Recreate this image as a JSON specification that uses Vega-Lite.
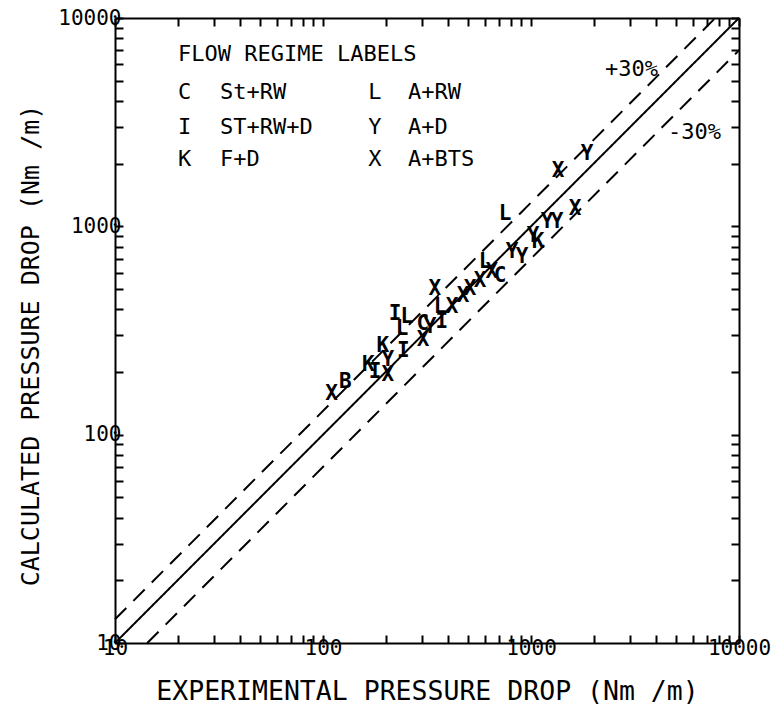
{
  "$schema": "https://vega.github.io/schema/vega-lite/v6.json",
  "width": 624,
  "height": 625,
  "autosize": {"type": "none"},
  "padding": {"left": 115, "top": 18, "right": 36, "bottom": 75},
  "background": "white",
  "config": {
    "view": {"stroke": null},
    "axis": {
      "domainColor": "black", "domainWidth": 2, "tickColor": "black", "tickWidth": 2,
      "grid": false, "labelFont": "DejaVu Sans Mono", "labelFontSize": 21, "labelColor": "black",
      "titleFont": "DejaVu Sans Mono", "titleFontSize": 24, "titleFontWeight": "normal", "titleColor": "black"
    }
  },
  "datasets": {
    "lines": [
      {"series": "eq", "style": "solid", "exp": 10, "calc": 10},
      {"series": "eq", "style": "solid", "exp": 10000, "calc": 10000},
      {"series": "p30", "style": "dashed", "exp": 10, "calc": 13},
      {"series": "p30", "style": "dashed", "exp": 7692, "calc": 10000},
      {"series": "m30", "style": "dashed", "exp": 14.29, "calc": 10},
      {"series": "m30", "style": "dashed", "exp": 10000, "calc": 7000}
    ],
    "points": [
      {"label": "X", "exp": 110, "calc": 156},
      {"label": "B", "exp": 128, "calc": 178},
      {"label": "K", "exp": 165, "calc": 217},
      {"label": "I", "exp": 178, "calc": 199},
      {"label": "K", "exp": 194, "calc": 265},
      {"label": "Y", "exp": 205, "calc": 229},
      {"label": "X", "exp": 205, "calc": 194},
      {"label": "I", "exp": 243, "calc": 251},
      {"label": "L", "exp": 240, "calc": 320},
      {"label": "I", "exp": 222, "calc": 378},
      {"label": "L", "exp": 253, "calc": 369},
      {"label": "X", "exp": 303, "calc": 286},
      {"label": "C", "exp": 302, "calc": 338},
      {"label": "Y", "exp": 327, "calc": 330},
      {"label": "X", "exp": 345, "calc": 498},
      {"label": "L", "exp": 365, "calc": 412},
      {"label": "I", "exp": 373, "calc": 349},
      {"label": "X", "exp": 417, "calc": 412},
      {"label": "X", "exp": 471, "calc": 461},
      {"label": "X", "exp": 509, "calc": 498},
      {"label": "X", "exp": 569, "calc": 544},
      {"label": "X", "exp": 649, "calc": 601},
      {"label": "C", "exp": 710, "calc": 575},
      {"label": "L", "exp": 601, "calc": 671},
      {"label": "Y", "exp": 811, "calc": 750},
      {"label": "Y", "exp": 905, "calc": 710},
      {"label": "Y", "exp": 1023, "calc": 895},
      {"label": "K", "exp": 1081, "calc": 838},
      {"label": "Y", "exp": 1194, "calc": 1045},
      {"label": "Y", "exp": 1334, "calc": 1045},
      {"label": "X", "exp": 1628, "calc": 1207},
      {"label": "L", "exp": 750, "calc": 1142},
      {"label": "X", "exp": 1349, "calc": 1838},
      {"label": "Y", "exp": 1858, "calc": 2219}
    ],
    "annot": [
      {"text": "FLOW REGIME LABELS", "exp": 20.1, "calc": 6714},
      {"text": "C", "exp": 20.1, "calc": 4406},
      {"text": "St+RW", "exp": 32, "calc": 4406},
      {"text": "L", "exp": 165, "calc": 4406},
      {"text": "A+RW", "exp": 256, "calc": 4406},
      {"text": "I", "exp": 20.1, "calc": 2992},
      {"text": "ST+RW+D", "exp": 32, "calc": 2992},
      {"text": "Y", "exp": 165, "calc": 2992},
      {"text": "A+D", "exp": 256, "calc": 2992},
      {"text": "K", "exp": 20.1, "calc": 2099},
      {"text": "F+D", "exp": 32, "calc": 2099},
      {"text": "X", "exp": 165, "calc": 2099},
      {"text": "A+BTS", "exp": 256, "calc": 2099},
      {"text": "+30%", "exp": 2270, "calc": 5690},
      {"text": "-30%", "exp": 4560, "calc": 2830}
    ]
  },
  "resolve": {"axis": {"x": "independent", "y": "independent"}},
  "layer": [
    {
      "data": {"name": "lines"},
      "mark": {"type": "line", "color": "black", "strokeWidth": 2},
      "encoding": {
        "x": {"field": "exp", "type": "quantitative",
          "scale": {"type": "log", "domain": [10, 10000], "nice": false},
          "axis": {"orient": "bottom", "title": "EXPERIMENTAL PRESSURE DROP  (Nm /m)",
            "values": [10,20,30,40,50,60,70,80,90,100,200,300,400,500,600,700,800,900,1000,2000,3000,4000,5000,6000,7000,8000,9000,10000],
            "format": "d", "tickSize": -8, "labelPadding": 2, "labelFlush": false, "labelOverlap": false,
            "labelExpr": "(datum.value == 10 || datum.value == 100 || datum.value == 1000 || datum.value == 10000) ? datum.label : ''",
            "titleFontSize": 26.5, "titlePadding": 20}},
        "y": {"field": "calc", "type": "quantitative",
          "scale": {"type": "log", "domain": [10, 10000], "nice": false},
          "axis": {"orient": "left", "title": "CALCULATED PRESSURE DROP  (Nm /m)",
            "values": [10,20,30,40,50,60,70,80,90,100,200,300,400,500,600,700,800,900,1000,2000,3000,4000,5000,6000,7000,8000,9000,10000],
            "format": "d", "tickSize": -8, "labelPadding": 2, "labelFlush": false, "labelOverlap": false,
            "labelExpr": "(datum.value == 10 || datum.value == 100 || datum.value == 1000 || datum.value == 10000) ? datum.label : ''",
            "titleFontSize": 25, "titleY": 327, "titlePadding": 14}},
        "detail": {"field": "series"},
        "strokeDash": {"field": "style", "type": "nominal",
          "scale": {"domain": ["solid", "dashed"], "range": [[1, 0], [16, 10]]}, "legend": null}
      }
    },
    {
      "data": {"name": "points"},
      "mark": {"type": "text", "font": "DejaVu Sans Mono", "fontSize": 21, "fontWeight": "bold", "color": "black"},
      "encoding": {
        "x": {"field": "exp", "type": "quantitative",
          "scale": {"type": "log", "domain": [10, 10000], "nice": false},
          "axis": {"orient": "top", "title": null, "labels": false,
            "values": [10,20,30,40,50,60,70,80,90,100,200,300,400,500,600,700,800,900,1000,2000,3000,4000,5000,6000,7000,8000,9000,10000],
            "tickSize": -8}},
        "y": {"field": "calc", "type": "quantitative",
          "scale": {"type": "log", "domain": [10, 10000], "nice": false},
          "axis": {"orient": "right", "title": null, "labels": false,
            "values": [10,20,30,40,50,60,70,80,90,100,200,300,400,500,600,700,800,900,1000,2000,3000,4000,5000,6000,7000,8000,9000,10000],
            "tickSize": -8}},
        "text": {"field": "label"}
      }
    },
    {
      "data": {"name": "annot"},
      "mark": {"type": "text", "font": "DejaVu Sans Mono", "fontSize": 22, "align": "left", "baseline": "middle", "color": "black"},
      "encoding": {
        "x": {"field": "exp", "type": "quantitative", "scale": {"type": "log", "domain": [10, 10000], "nice": false}, "axis": null},
        "y": {"field": "calc", "type": "quantitative", "scale": {"type": "log", "domain": [10, 10000], "nice": false}, "axis": null},
        "text": {"field": "text"}
      }
    }
  ]
}
